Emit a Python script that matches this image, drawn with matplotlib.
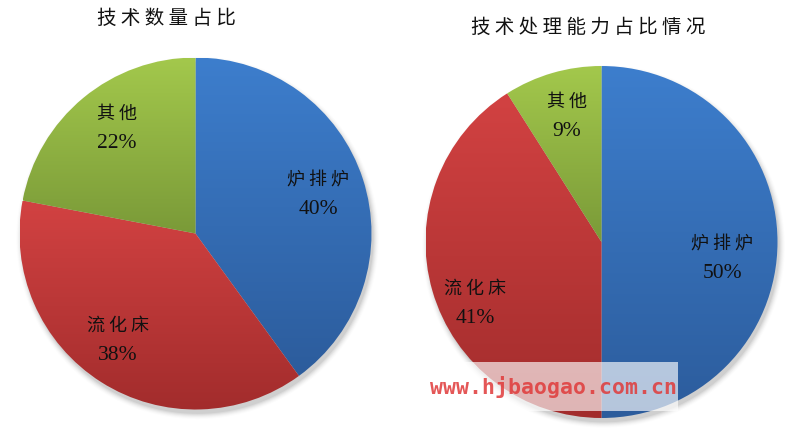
import numpy as np
import matplotlib
matplotlib.use("Agg")
import matplotlib.pyplot as plt
from matplotlib.colors import LinearSegmentedColormap
from matplotlib.patches import Circle, Rectangle

# ---- data ----
categories = ["炉排炉", "流化床", "其他"]
count_share = [40, 38, 22]
capacity_share = [50, 41, 9]
titles = ["技术数量占比", "技术处理能力占比情况"]

top_colors = ["#3d7ecd", "#d24242", "#a3c84c"]
bot_colors = ["#2c5c9c", "#a22c2c", "#7a9a38"]

W, H = 787, 435
fig = plt.figure(figsize=(W / 100, H / 100), dpi=100)
fig.patch.set_facecolor("white")

cjk = ["Noto Sans CJK SC", "DejaVu Sans"]
serif = ["Liberation Serif", "DejaVu Serif"]


def spaced(s):
    return " ".join(s)


def pie_axes(cx, cy, r):
    ax = fig.add_axes([(cx - r) / W, (H - cy - r) / H, 2 * r / W, 2 * r / H])
    return ax


def draw_pie(ax, values, label_pos):
    # shadow
    for i, a in enumerate(np.linspace(0.05, 0.01, 6)):
        ax.add_patch(Circle((0.012, -0.025), 1.0 + 0.006 * i, color="#000000",
                            alpha=a, lw=0, zorder=0, clip_on=False))
    wedges, _ = ax.pie(values, startangle=90, counterclock=False, radius=1.0,
                       colors=["none"] * len(values),
                       wedgeprops=dict(linewidth=0))
    ax.set_xlim(-1, 1)
    ax.set_ylim(-1, 1)
    ax.set_aspect("equal")
    ax.axis("off")
    for w, tc, bc in zip(wedges, top_colors, bot_colors):
        verts = w.get_path().vertices
        trans = w.get_patch_transform()
        pts = trans.transform(verts)
        x0, x1 = pts[:, 0].min(), pts[:, 0].max()
        y0, y1 = pts[:, 1].min(), pts[:, 1].max()
        cmap = LinearSegmentedColormap.from_list("g", [bc, tc])
        grad = np.linspace(0, 1, 256).reshape(-1, 1)
        im = ax.imshow(grad, extent=[x0, x1, y0, y1], origin="lower",
                       cmap=cmap, aspect="auto", zorder=1, interpolation="bilinear")
        im.set_clip_path(w)
    ax.set_xlim(-1, 1)
    ax.set_ylim(-1, 1)
    for cat, v, (lx, ly) in zip(categories, values, label_pos):
        ax.text(lx, ly + 0.085, spaced(cat), ha="center", va="center", fontsize=13,
                family=cjk, color="#111111", zorder=3)
        ax.text(lx, ly - 0.08, f"{v}%", ha="center", va="center", fontsize=15.5,
                family=serif, color="#111111", zorder=3)


# pie 1
c1 = (195.5, 234.5)
r = 176
ax1 = pie_axes(*c1, r)
lp1 = [((318 - c1[0]) / r, (c1[1] - 195) / r),
       ((118 - c1[0]) / r, (c1[1] - 341) / r),
       ((117 - c1[0]) / r, (c1[1] - 129) / r)]
draw_pie(ax1, count_share, lp1)

# pie 2
c2 = (601.5, 243)
ax2 = pie_axes(*c2, r)
lp2 = [((722 - c2[0]) / r, (c2[1] - 259) / r),
       ((475 - c2[0]) / r, (c2[1] - 304) / r),
       ((567 - c2[0]) / r, (c2[1] - 117) / r)]
draw_pie(ax2, capacity_share, lp2)

# titles
fig.text(166 / W, 1 - 18 / H, spaced(titles[0]), ha="center", va="center",
         fontsize=14, family=cjk, color="#111111")
fig.text(588 / W, 1 - 27 / H, spaced(titles[1]), ha="center", va="center",
         fontsize=14, family=cjk, color="#111111")

# watermark
fig.patches.append(Rectangle((415 / W, 1 - 412 / H), (678 - 415) / W, 49 / H,
                             transform=fig.transFigure, facecolor="white",
                             alpha=0.65, lw=0, zorder=5))
fig.text(553 / W, 1 - 387 / H, "www.hjbaogao.com.cn", ha="center", va="center",
         fontsize=15.5, family=["DejaVu Sans Mono"], weight="bold",
         color="#e03a3a", alpha=0.85, zorder=6)

fig.savefig("out.png", dpi=100, facecolor="white")
